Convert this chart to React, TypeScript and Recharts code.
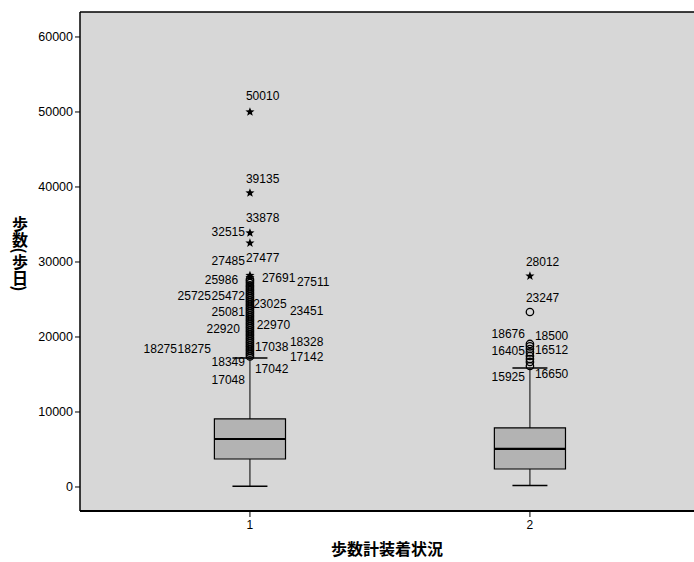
import { ComposedChart, XAxis, YAxis, Scatter, ReferenceArea, ReferenceLine } from 'recharts';

// box statistics per group (steps/day)
const groups = [1, 2];
const lowerWhisker = [100, 200];
const q1 = [3730, 2400];
const median = [6400, 5070];
const q3 = [9070, 7870];
const upperWhisker = [17200, 15850];

// outliers, group 1
const g1Circles = [
  27700, 27450, 27200, 26900, 26650, 26400, 26150, 25900, 25650, 25400, 25150, 24900,
  24650, 24400, 24150, 23900, 23650, 23400, 23150, 22900, 22650, 22400, 22150, 21900,
  21650, 21400, 21150, 20900, 20650, 20400, 20150, 19900, 19650, 19400, 19150, 18900,
  18650, 18400, 18150, 17900, 17650, 17400,
];
const g1Stars = [50000, 39200, 33870, 32530, 28200, 27950];

// outliers, group 2
const g2Circles = [23330, 19070, 18750, 18400, 17950, 17470, 17050, 16670, 16130];
const g2Stars = [28130];

// case id labels: y = value level of the label, col = side/column next to the point
const g1Cases = [
  { id: '50010', y: 52130, col: 0 },
  { id: '39135', y: 41070, col: 0 },
  { id: '33878', y: 35870, col: 0 },
  { id: '32515', y: 34000, col: -1 },
  { id: '27485', y: 30130, col: -1 },
  { id: '27477', y: 30530, col: 0 },
  { id: '25986', y: 27600, col: -1.2 },
  { id: '27691', y: 27870, col: 1.2 },
  { id: '27511', y: 27330, col: 2.2 },
  { id: '25725', y: 25470, col: -2 },
  { id: '25472', y: 25470, col: -1 },
  { id: '23025', y: 24400, col: 0.95 },
  { id: '23451', y: 23470, col: 2 },
  { id: '25081', y: 23330, col: -1 },
  { id: '22920', y: 21070, col: -1.15 },
  { id: '22970', y: 21600, col: 1.05 },
  { id: '18328', y: 19330, col: 2 },
  { id: '17038', y: 18670, col: 1 },
  { id: '18275', y: 18400, col: -3 },
  { id: '18275', y: 18400, col: -2 },
  { id: '17142', y: 17330, col: 2 },
  { id: '18349', y: 16670, col: -1 },
  { id: '17042', y: 15730, col: 1 },
  { id: '17048', y: 14270, col: -1 },
];
const g2Cases = [
  { id: '28012', y: 30000, col: 0 },
  { id: '23247', y: 25200, col: 0 },
  { id: '18676', y: 20400, col: -1 },
  { id: '18500', y: 20130, col: 1 },
  { id: '16405', y: 18130, col: -1 },
  { id: '16512', y: 18270, col: 1 },
  { id: '15925', y: 14670, col: -1 },
  { id: '16650', y: 15070, col: 1 },
];

const yTicks = [0, 10000, 20000, 30000, 40000, 50000, 60000];
const xDomain = [0.393, 2.586];
const yDomain = [-3200, 63330];

const BOX_HALF = 0.127;
const CAP_HALF = 0.0625;
const FONT = '"Liberation Sans", Arial, sans-serif';
const CJK = '"Noto Sans CJK JP", sans-serif';

const toPoints = (g: number, vals: number[]) => vals.map((y) => ({ x: g, y }));
const toCases = (g: number, rows: { id: string; y: number; col: number }[]) =>
  rows.map((r) => ({ x: g, y: r.y, id: r.id, col: r.col }));

const circleShape = (p: any) => (
  <circle cx={p.cx} cy={p.cy} r={3.7} fill="none" stroke="#000" strokeWidth={1.3} />
);

const starShape = (p: any) => {
  const pts: string[] = [];
  for (let i = 0; i < 10; i++) {
    const r = i % 2 === 0 ? 4.8 : 2;
    const a = -Math.PI / 2 + (i * Math.PI) / 5;
    pts.push(`${p.cx + r * Math.cos(a)},${p.cy + r * Math.sin(a)}`);
  }
  return <polygon points={pts.join(' ')} fill="#000" />;
};

const caseLabel = (p: any) => {
  const col = p.payload.col;
  let x = p.cx - 4;
  let anchor: 'start' | 'end' = 'start';
  if (col < 0) {
    anchor = 'end';
    x = p.cx - 5 - (-col - 1) * 34;
  } else if (col > 0) {
    x = p.cx + 5 + (col - 1) * 35;
  }
  return (
    <text x={x} y={p.cy} textAnchor={anchor} dominantBaseline="central" fontSize={12} fontFamily={FONT} fill="#000">
      {p.payload.id}
    </text>
  );
};

const YTitle = (p: any) => {
  const vb = p.viewBox || { x: 0, y: 12, width: 80, height: 499 };
  return (
    <text
      x={vb.x + 20}
      y={vb.y + vb.height / 2 - 8}
      textAnchor="middle"
      fontSize={16}
      fontWeight="bold"
      fontFamily={CJK}
      fill="#000"
      style={{ writingMode: 'vertical-rl' }}
    >
      歩数(歩日)
    </text>
  );
};

export default function App() {
  return (
    <div style={{ position: 'absolute', left: 0, top: 0, background: '#fff' }}>
      <ComposedChart width={694} height={562} margin={{ top: 12, right: 0, bottom: 0, left: 0 }}>
        <XAxis
          type="number"
          dataKey="x"
          domain={xDomain}
          allowDataOverflow
          ticks={groups}
          axisLine={false}
          tickLine={{ stroke: '#000' }}
          tickSize={6}
          tickMargin={3}
          height={51}
          tick={{ fill: '#000', fontSize: 12, fontFamily: FONT }}
          label={{
            value: '歩数計装着状況',
            position: 'insideBottom',
            offset: 7,
            style: { fontSize: 16, fontWeight: 'bold', fontFamily: CJK, fill: '#000' },
          }}
        />
        <YAxis
          type="number"
          dataKey="y"
          domain={yDomain}
          allowDataOverflow
          ticks={yTicks}
          width={80}
          axisLine={false}
          tickLine={{ stroke: '#000' }}
          tickSize={5}
          tickMargin={2}
          tick={{ fill: '#000', fontSize: 12.5, fontFamily: FONT }}
          label={{ content: YTitle }}
        />
        <ReferenceArea
          x1={xDomain[0]}
          x2={xDomain[1]}
          y1={yDomain[0]}
          y2={yDomain[1]}
          fill="#d7d7d7"
          fillOpacity={1}
          stroke="none"
        />
        <ReferenceLine y={yDomain[1]} stroke="#000" strokeWidth={1.5} />
        <ReferenceLine y={yDomain[0]} stroke="#000" strokeWidth={1.8} />
        <ReferenceLine x={xDomain[0]} stroke="#000" strokeWidth={1.5} />
        {groups.map((g, i) => (
          <ReferenceLine key={`wl${g}`} segment={[{ x: g, y: lowerWhisker[i] }, { x: g, y: q1[i] }]} stroke="#000" />
        ))}
        {groups.map((g, i) => (
          <ReferenceLine key={`wu${g}`} segment={[{ x: g, y: q3[i] }, { x: g, y: upperWhisker[i] }]} stroke="#000" />
        ))}
        {groups.map((g, i) => (
          <ReferenceLine
            key={`cl${g}`}
            segment={[{ x: g - CAP_HALF, y: lowerWhisker[i] }, { x: g + CAP_HALF, y: lowerWhisker[i] }]}
            stroke="#000"
            strokeWidth={1.5}
          />
        ))}
        {groups.map((g, i) => (
          <ReferenceLine
            key={`cu${g}`}
            segment={[{ x: g - CAP_HALF, y: upperWhisker[i] }, { x: g + CAP_HALF, y: upperWhisker[i] }]}
            stroke="#000"
            strokeWidth={1.5}
          />
        ))}
        {groups.map((g, i) => (
          <ReferenceArea
            key={`box${g}`}
            x1={g - BOX_HALF}
            x2={g + BOX_HALF}
            y1={q1[i]}
            y2={q3[i]}
            fill="#b3b3b3"
            fillOpacity={1}
            stroke="#000"
            strokeWidth={1.2}
          />
        ))}
        {groups.map((g, i) => (
          <ReferenceLine
            key={`med${g}`}
            segment={[{ x: g - BOX_HALF, y: median[i] }, { x: g + BOX_HALF, y: median[i] }]}
            stroke="#000"
            strokeWidth={2.2}
          />
        ))}
        <Scatter data={toPoints(1, g1Circles)} shape={circleShape} isAnimationActive={false} />
        <Scatter data={toPoints(1, g1Stars)} shape={starShape} isAnimationActive={false} />
        <Scatter data={toPoints(2, g2Circles)} shape={circleShape} isAnimationActive={false} />
        <Scatter data={toPoints(2, g2Stars)} shape={starShape} isAnimationActive={false} />
        <Scatter data={toCases(1, g1Cases)} shape={caseLabel} isAnimationActive={false} />
        <Scatter data={toCases(2, g2Cases)} shape={caseLabel} isAnimationActive={false} />
      </ComposedChart>
    </div>
  );
}
